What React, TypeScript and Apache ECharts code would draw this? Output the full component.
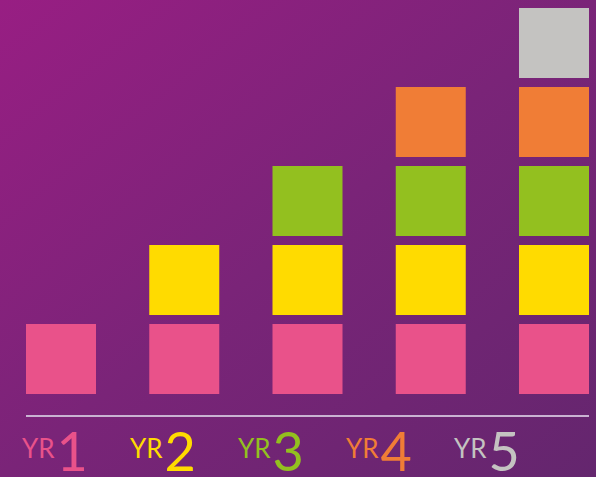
import React, { useEffect, useRef } from "react";
import * as echarts from "echarts";

const years = ["1", "2", "3", "4", "5"];
const prefix = "YR";
// number of stacked blocks in each year column
const blocksPerYear = [1, 2, 3, 4, 5];
// colour of each level (bottom to top) and of each year label
const levelColors = ["#E9528A", "#FFDB00", "#93C01F", "#F07D36", "#C4C3C1"];
const labelColors = ["#E9528A", "#FFDB00", "#93C01F", "#F07D36", "#C4C3C1"];

export default function App() {
  const ref = useRef<HTMLDivElement>(null);
  useEffect(() => {
    if (!ref.current) return;
    const chart = echarts.init(ref.current, null, { renderer: "svg" });
    const data: number[][] = [];
    blocksPerYear.forEach((n, x) => {
      for (let l = 0; l < n; l++) data.push([x, l]);
    });
    const rich: Record<string, any> = {};
    labelColors.forEach((c, i) => {
      rich["y" + i] = {
        color: c,
        fontFamily: "Lato",
        fontSize: 26,
        lineHeight: 18,
        padding: [0, 2, 0, 0],
        verticalAlign: "top",
      };
      rich["d" + i] = {
        color: c,
        fontFamily: "Lato",
        fontSize: 54,
        lineHeight: 30,
        verticalAlign: "middle",
      };
    });
    chart.setOption({
      animation: false,
      backgroundColor: {
        type: "linear",
        x: 0,
        y: 0,
        x2: 1,
        y2: 1,
        colorStops: [
          { offset: 0, color: "#981E83" },
          { offset: 0.5, color: "#7A2478" },
          { offset: 1, color: "#64266E" },
        ],
      },
      grid: [
        { left: 61, right: 42, top: 7, bottom: 83 },
        { left: 55, right: 109, top: 300, bottom: 47 },
      ],
      xAxis: [
        {
          type: "category",
          data: years,
          boundaryGap: false,
          gridIndex: 0,
          show: false,
        },
        {
          type: "category",
          data: years,
          boundaryGap: false,
          gridIndex: 1,
          axisLine: { show: false },
          axisTick: { show: false },
          axisLabel: {
            margin: 7,
            interval: 0,
            formatter: (v: string, i: number) => `{y${i}|${prefix}}{d${i}|${v}}`,
            rich,
          },
        },
      ],
      yAxis: [
        { type: "value", min: 0, max: 4.9, gridIndex: 0, show: false },
        { type: "value", gridIndex: 1, show: false },
      ],
      graphic: [
        {
          type: "line",
          shape: { x1: 26, y1: 416, x2: 589, y2: 416 },
          style: { stroke: "#C9B3D2", lineWidth: 2 },
        },
      ],
      series: [
        {
          type: "custom",
          xAxisIndex: 0,
          yAxisIndex: 0,
          data,
          renderItem: (params: any, api: any) => {
            const x = api.value(0);
            const l = api.value(1);
            const p = api.coord([x, l]);
            const size = 70;
            return {
              type: "rect",
              shape: { x: p[0] - size / 2, y: p[1] - size, width: size, height: size },
              style: { fill: levelColors[l] },
            };
          },
        },
      ],
    });
    return () => chart.dispose();
  }, []);
  return <div ref={ref} style={{ width: 596, height: 477, position: "absolute", left: 0, top: 0 }} />;
}
